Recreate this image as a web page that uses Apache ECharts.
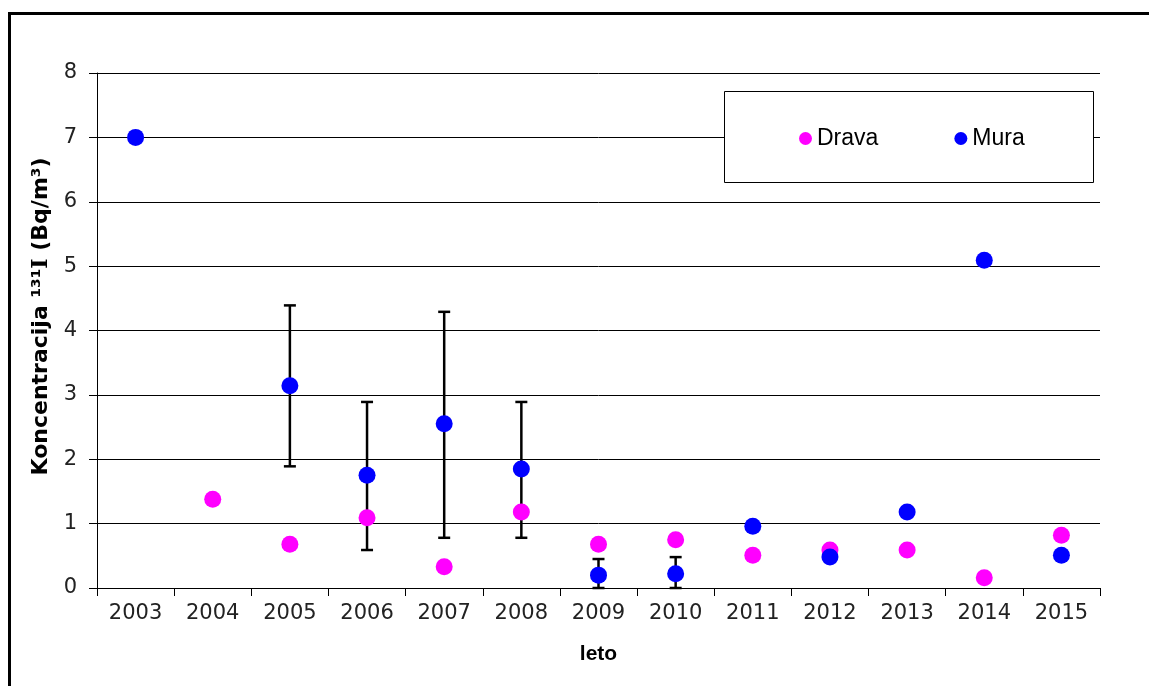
<!DOCTYPE html>
<html>
<head>
<meta charset="utf-8">
<script src="https://cdn.jsdelivr.net/npm/echarts@6/dist/echarts.min.js"></script>
<style>
  html, body { margin: 0; padding: 0; background: #fff; }
  #chart { width: 1149px; height: 686px; }
</style>
</head>
<body>
<div id="chart"></div>
<script>
// Yearly 131I concentrations in the Drava and Mura rivers (Bq/m3)
const years = ['2003', '2004', '2005', '2006', '2007', '2008', '2009', '2010', '2011', '2012', '2013', '2014', '2015'];
const drava = ['-', 1.38, 0.68, 1.09, 0.33, 1.18, 0.68, 0.75, 0.51, 0.59, 0.59, 0.16, 0.82];
const mura = [7.0, '-', 3.14, 1.75, 2.55, 1.85, 0.20, 0.22, 0.96, 0.48, 1.18, 5.09, 0.51];
// uncertainty range for the Mura values
const muraLow = [null, null, 1.89, 0.59, 0.78, 0.78, 0, 0, null, null, null, null, null];
const muraHigh = [null, null, 4.39, 2.89, 4.29, 2.89, 0.45, 0.48, null, null, null, null, null];
const yTicks = [0, 1, 2, 3, 4, 5, 6, 7, 8];

const errorData = [];
years.forEach((y, i) => {
  if (muraLow[i] !== null) errorData.push([i, muraLow[i], muraHigh[i]]);
});

const chart = echarts.init(document.getElementById('chart'), null, { renderer: 'canvas' });

const titleFont = { fontFamily: 'DejaVu Sans', fontWeight: 'bold', fontSize: 22, color: '#000' };

chart.setOption({
  backgroundColor: '#fff',
  animation: false,
  grid: { left: 97, right: 49, top: 73, bottom: 98 },
  xAxis: {
    type: 'category',
    data: years,
    boundaryGap: true,
    name: 'leto',
    nameLocation: 'middle',
    nameGap: 56,
    nameTextStyle: { fontFamily: 'Liberation Sans', fontWeight: 'bold', fontSize: 21, color: '#000', verticalAlign: 'top' },
    axisLine: { lineStyle: { color: '#000', width: 1 } },
    axisTick: { show: true, length: 8, inside: false, alignWithLabel: false, lineStyle: { color: '#000' } },
    axisLabel: { fontFamily: 'DejaVu Sans', fontSize: 21, color: '#222', margin: 15 },
    splitLine: { show: false }
  },
  yAxis: {
    type: 'value',
    min: yTicks[0],
    max: yTicks[yTicks.length - 1],
    interval: 1,
    name: '{t|Koncentracija ¹³¹}{i|I}{t| (Bq/m³)}',
    nameLocation: 'middle',
    nameGap: 43,
    nameRotate: 90,
    nameTextStyle: {
      fontFamily: 'DejaVu Sans', fontWeight: 'bold', fontSize: 22, color: '#000',
      padding: [0, 0, 0, 28],
      rich: {
        t: titleFont,
        i: { fontFamily: 'DejaVu Serif', fontWeight: 'bold', fontSize: 22, color: '#000' }
      }
    },
    axisLine: { show: true, lineStyle: { color: '#000', width: 1 } },
    axisTick: { show: true, length: 8, inside: false, lineStyle: { color: '#000' } },
    axisLabel: { fontFamily: 'DejaVu Sans', fontSize: 21, color: '#222', margin: 20 },
    splitLine: { show: true, lineStyle: { color: '#000', width: 1 } }
  },
  legend: {
    left: 794,
    top: 122,
    icon: 'circle',
    itemWidth: 13,
    itemHeight: 13,
    itemGap: 76,
    z: 5,
    textStyle: { fontFamily: 'Liberation Sans', fontSize: 23, color: '#000' },
    data: ['Drava', 'Mura']
  },
  graphic: [
    {
      type: 'rect',
      z: 4,
      shape: { x: 724.5, y: 91.5, width: 369, height: 91 },
      style: { fill: '#fff', stroke: '#000', lineWidth: 1 }
    },
    {
      type: 'rect',
      z: 10,
      silent: true,
      shape: { x: 9.5, y: 13.5, width: 1400, height: 900 },
      style: { fill: 'none', stroke: '#000', lineWidth: 3 }
    }
  ],
  series: [
    {
      name: 'errors',
      type: 'custom',
      z: 1,
      data: errorData,
      renderItem: function (params, api) {
        const x = api.value(0);
        const lo = api.coord([x, api.value(1)]);
        const hi = api.coord([x, api.value(2)]);
        const cap = 6;
        const style = { stroke: '#000', lineWidth: 2.5 };
        return {
          type: 'group',
          children: [
            { type: 'line', shape: { x1: lo[0], y1: lo[1], x2: hi[0], y2: hi[1] }, style: style },
            { type: 'line', shape: { x1: hi[0] - cap, y1: hi[1], x2: hi[0] + cap, y2: hi[1] }, style: style },
            { type: 'line', shape: { x1: lo[0] - cap, y1: lo[1], x2: lo[0] + cap, y2: lo[1] }, style: style }
          ]
        };
      }
    },
    {
      name: 'Drava',
      type: 'scatter',
      z: 2,
      symbol: 'circle',
      symbolSize: 17,
      itemStyle: { color: '#FF00FF', opacity: 1 },
      data: drava
    },
    {
      name: 'Mura',
      type: 'scatter',
      z: 3,
      symbol: 'circle',
      symbolSize: 17,
      itemStyle: { color: '#0000FF', opacity: 1 },
      data: mura
    }
  ]
});
</script>
</body>
</html>
